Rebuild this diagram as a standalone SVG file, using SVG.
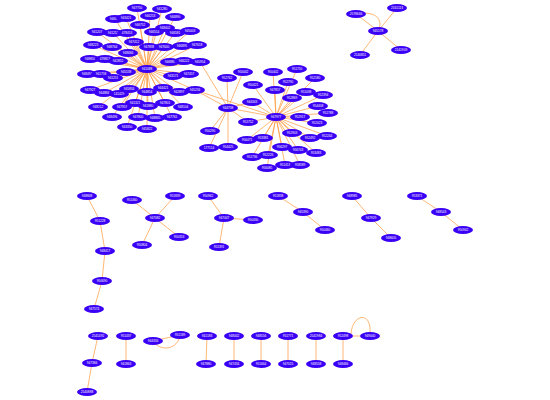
<svg xmlns="http://www.w3.org/2000/svg" width="550" height="400" viewBox="0 0 550 400">
<style>
.n{fill:#3a00f5}
.t{fill:#ffffff;font-family:"Liberation Sans",Arial,sans-serif;font-size:3.2px;text-anchor:middle;dominant-baseline:central}
#edges line,#edges path{stroke:#ff9a40;stroke-width:0.8;fill:none;stroke-opacity:0.9}
</style>
<rect width="550" height="400" fill="#ffffff"/>
<g id="edges">
<!-- cluster 1 hub 147,69 -->
<line x1="147" y1="69" x2="137" y2="8"/><line x1="147" y1="69" x2="162" y2="9"/><line x1="147" y1="69" x2="115" y2="19"/><line x1="147" y1="69" x2="126" y2="18"/><line x1="147" y1="69" x2="150" y2="16"/><line x1="147" y1="69" x2="175" y2="17"/><line x1="147" y1="69" x2="97" y2="32"/><line x1="147" y1="69" x2="113" y2="33"/><line x1="147" y1="69" x2="127" y2="33"/><line x1="147" y1="69" x2="140" y2="25"/><line x1="147" y1="69" x2="165" y2="28"/><line x1="147" y1="69" x2="154" y2="32"/><line x1="147" y1="69" x2="175" y2="33"/><line x1="147" y1="69" x2="190" y2="31"/><line x1="147" y1="69" x2="93" y2="45"/><line x1="147" y1="69" x2="112" y2="47"/><line x1="147" y1="69" x2="134" y2="42"/><line x1="147" y1="69" x2="149" y2="47"/><line x1="147" y1="69" x2="164" y2="47"/><line x1="147" y1="69" x2="182" y2="46"/><line x1="147" y1="69" x2="197" y2="45"/><line x1="147" y1="69" x2="128" y2="53"/><line x1="147" y1="69" x2="90" y2="59"/><line x1="147" y1="69" x2="105" y2="59"/><line x1="147" y1="69" x2="118" y2="61"/><line x1="147" y1="69" x2="170" y2="62"/><line x1="147" y1="69" x2="184" y2="61"/><line x1="147" y1="69" x2="200" y2="62"/><line x1="147" y1="69" x2="87" y2="74"/><line x1="147" y1="69" x2="101" y2="74"/><line x1="147" y1="69" x2="113" y2="78"/><line x1="147" y1="69" x2="126" y2="72"/><line x1="147" y1="69" x2="173" y2="76"/><line x1="147" y1="69" x2="189" y2="74"/><line x1="147" y1="69" x2="90" y2="90"/><line x1="147" y1="69" x2="104" y2="93"/><line x1="147" y1="69" x2="119" y2="94"/><line x1="147" y1="69" x2="129" y2="89"/><line x1="147" y1="69" x2="147" y2="92"/><line x1="147" y1="69" x2="163" y2="88"/><line x1="147" y1="69" x2="179" y2="92"/><line x1="147" y1="69" x2="195" y2="90"/><line x1="147" y1="69" x2="98" y2="107"/><line x1="147" y1="69" x2="122" y2="107"/><line x1="147" y1="69" x2="135" y2="103"/><line x1="147" y1="69" x2="148" y2="106"/><line x1="147" y1="69" x2="165" y2="103"/><line x1="147" y1="69" x2="183" y2="107"/><line x1="147" y1="69" x2="112" y2="117"/><line x1="147" y1="69" x2="138" y2="117"/><line x1="147" y1="69" x2="155" y2="118"/><line x1="147" y1="69" x2="172" y2="117"/><line x1="147" y1="69" x2="127" y2="127"/><line x1="147" y1="69" x2="147" y2="129"/>
<!-- cluster A hub 228,108 -->
<line x1="228" y1="108" x2="243" y2="72"/><line x1="228" y1="108" x2="227" y2="78"/><line x1="228" y1="108" x2="252" y2="102"/><line x1="228" y1="108" x2="248" y2="122"/><line x1="228" y1="108" x2="210" y2="131"/><line x1="228" y1="108" x2="228" y2="147"/><line x1="228" y1="108" x2="209" y2="148"/><line x1="228" y1="108" x2="195" y2="90"/><line x1="228" y1="108" x2="200" y2="62"/><line x1="228" y1="108" x2="276" y2="117"/>
<!-- cluster B hub 276,117 -->
<line x1="276" y1="117" x2="253" y2="85"/><line x1="276" y1="117" x2="273" y2="72"/><line x1="276" y1="117" x2="297" y2="69"/><line x1="276" y1="117" x2="288" y2="82"/><line x1="276" y1="117" x2="275" y2="90"/><line x1="276" y1="117" x2="315" y2="78"/><line x1="276" y1="117" x2="306" y2="92"/><line x1="276" y1="117" x2="323" y2="95"/><line x1="276" y1="117" x2="292" y2="98"/><line x1="276" y1="117" x2="318" y2="106"/><line x1="276" y1="117" x2="300" y2="117"/><line x1="276" y1="117" x2="328" y2="113"/><line x1="276" y1="117" x2="317" y2="123"/><line x1="276" y1="117" x2="292" y2="133"/><line x1="276" y1="117" x2="310" y2="138"/><line x1="276" y1="117" x2="327" y2="136"/><line x1="276" y1="117" x2="282" y2="147"/><line x1="276" y1="117" x2="298" y2="150"/><line x1="276" y1="117" x2="316" y2="153"/><line x1="276" y1="117" x2="247" y2="140"/><line x1="276" y1="117" x2="263" y2="138"/><line x1="276" y1="117" x2="252" y2="157"/><line x1="276" y1="117" x2="268" y2="155"/><line x1="276" y1="117" x2="267" y2="168"/><line x1="276" y1="117" x2="285" y2="165"/><line x1="276" y1="117" x2="300" y2="165"/><line x1="276" y1="117" x2="248" y2="122"/><line x1="276" y1="117" x2="252" y2="102"/><line x1="276" y1="117" x2="195" y2="90"/>
<!-- top right -->
<line x1="378" y1="31" x2="356" y2="14"/><path d="M356,14 C376,10 384,20 378,31"/><line x1="378" y1="31" x2="397" y2="8"/><line x1="378" y1="31" x2="360" y2="55"/><line x1="378" y1="31" x2="401" y2="50"/>
<!-- chain -->
<line x1="87" y1="196" x2="100" y2="221"/><line x1="100" y1="221" x2="105" y2="251"/><line x1="105" y1="251" x2="102" y2="281"/><line x1="102" y1="281" x2="94" y2="309"/>
<!-- star 947082 -->
<line x1="155" y1="218" x2="132" y2="200"/><line x1="155" y1="218" x2="175" y2="196"/><line x1="155" y1="218" x2="179" y2="237"/><line x1="155" y1="218" x2="142" y2="245"/>
<!-- star 947447 -->
<line x1="224" y1="218" x2="208" y2="196"/><line x1="224" y1="218" x2="253" y2="220"/><line x1="224" y1="218" x2="219" y2="247"/>
<!-- chains -->
<line x1="278" y1="196" x2="303" y2="212"/><line x1="303" y1="212" x2="325" y2="230"/>
<line x1="352" y1="196" x2="371" y2="218"/><line x1="371" y1="218" x2="391" y2="238"/>
<line x1="417" y1="196" x2="441" y2="212"/><line x1="441" y1="212" x2="463" y2="230"/>
<!-- bottom row -->
<line x1="98" y1="336" x2="92" y2="363"/><line x1="92" y1="363" x2="87" y2="392"/>
<line x1="126" y1="336" x2="126" y2="364"/>
<line x1="153" y1="341" x2="180" y2="335"/><path d="M153,341 C160,352 178,350 180,335"/>
<line x1="207" y1="336" x2="206" y2="364"/><line x1="234" y1="336" x2="234" y2="364"/><line x1="261" y1="336" x2="261" y2="364"/><line x1="288" y1="336" x2="288" y2="364"/><line x1="316" y1="336" x2="316" y2="364"/><line x1="343" y1="336" x2="343" y2="364"/>
<line x1="343" y1="336" x2="370" y2="336"/><path d="M351,334 C352,314 372,310 370,334"/>
</g>
<g id="nodes">
<g id="n941088"><ellipse class="n" cx="147" cy="69" rx="10" ry="4"/><text class="t" x="147" y="69">941088</text></g>
<g id="n947750"><ellipse class="n" cx="137" cy="8" rx="10" ry="4"/><text class="t" x="137" y="8">947750</text></g>
<g id="n941280"><ellipse class="n" cx="162" cy="9" rx="10" ry="4"/><text class="t" x="162" y="9">941280</text></g>
<g id="n946009"><ellipse class="n" cx="115" cy="19" rx="10" ry="4"/><text class="t" x="115" y="19">946009</text></g>
<g id="n943421"><ellipse class="n" cx="126" cy="18" rx="10" ry="4"/><text class="t" x="126" y="18">943421</text></g>
<g id="n946253"><ellipse class="n" cx="150" cy="16" rx="10" ry="4"/><text class="t" x="150" y="16">946253</text></g>
<g id="n946890"><ellipse class="n" cx="175" cy="17" rx="10" ry="4"/><text class="t" x="175" y="17">946890</text></g>
<g id="n941207"><ellipse class="n" cx="97" cy="32" rx="10" ry="4"/><text class="t" x="97" y="32">941207</text></g>
<g id="n941252"><ellipse class="n" cx="113" cy="33" rx="10" ry="4"/><text class="t" x="113" y="33">941252</text></g>
<g id="n478453"><ellipse class="n" cx="127" cy="33" rx="10" ry="4"/><text class="t" x="127" y="33">478453</text></g>
<g id="n946752"><ellipse class="n" cx="140" cy="25" rx="10" ry="4"/><text class="t" x="140" y="25">946752</text></g>
<g id="n948402"><ellipse class="n" cx="165" cy="28" rx="10" ry="4"/><text class="t" x="165" y="28">948402</text></g>
<g id="n946554"><ellipse class="n" cx="154" cy="32" rx="10" ry="4"/><text class="t" x="154" y="32">946554</text></g>
<g id="n946581"><ellipse class="n" cx="175" cy="33" rx="10" ry="4"/><text class="t" x="175" y="33">946581</text></g>
<g id="n945003"><ellipse class="n" cx="190" cy="31" rx="10" ry="4"/><text class="t" x="190" y="31">945003</text></g>
<g id="n948223"><ellipse class="n" cx="93" cy="45" rx="10" ry="4"/><text class="t" x="93" y="45">948223</text></g>
<g id="n948764"><ellipse class="n" cx="112" cy="47" rx="10" ry="4"/><text class="t" x="112" y="47">948764</text></g>
<g id="n947412"><ellipse class="n" cx="134" cy="42" rx="10" ry="4"/><text class="t" x="134" y="42">947412</text></g>
<g id="n947838"><ellipse class="n" cx="149" cy="47" rx="10" ry="4"/><text class="t" x="149" y="47">947838</text></g>
<g id="n947600"><ellipse class="n" cx="164" cy="47" rx="10" ry="4"/><text class="t" x="164" y="47">947600</text></g>
<g id="n946895"><ellipse class="n" cx="182" cy="46" rx="10" ry="4"/><text class="t" x="182" y="46">946895</text></g>
<g id="n947618"><ellipse class="n" cx="197" cy="45" rx="10" ry="4"/><text class="t" x="197" y="45">947618</text></g>
<g id="n948684"><ellipse class="n" cx="128" cy="53" rx="10" ry="4"/><text class="t" x="128" y="53">948684</text></g>
<g id="n948850"><ellipse class="n" cx="90" cy="59" rx="10" ry="4"/><text class="t" x="90" y="59">948850</text></g>
<g id="n478813"><ellipse class="n" cx="105" cy="59" rx="10" ry="4"/><text class="t" x="105" y="59">478813</text></g>
<g id="n942852"><ellipse class="n" cx="118" cy="61" rx="10" ry="4"/><text class="t" x="118" y="61">942852</text></g>
<g id="n946888"><ellipse class="n" cx="170" cy="62" rx="10" ry="4"/><text class="t" x="170" y="62">946888</text></g>
<g id="n946222"><ellipse class="n" cx="184" cy="61" rx="10" ry="4"/><text class="t" x="184" y="61">946222</text></g>
<g id="n945954"><ellipse class="n" cx="200" cy="62" rx="10" ry="4"/><text class="t" x="200" y="62">945954</text></g>
<g id="n948497"><ellipse class="n" cx="87" cy="74" rx="10" ry="4"/><text class="t" x="87" y="74">948497</text></g>
<g id="n941758"><ellipse class="n" cx="101" cy="74" rx="10" ry="4"/><text class="t" x="101" y="74">941758</text></g>
<g id="n941251"><ellipse class="n" cx="113" cy="78" rx="10" ry="4"/><text class="t" x="113" y="78">941251</text></g>
<g id="n945538"><ellipse class="n" cx="126" cy="72" rx="10" ry="4"/><text class="t" x="126" y="72">945538</text></g>
<g id="n943171"><ellipse class="n" cx="173" cy="76" rx="10" ry="4"/><text class="t" x="173" y="76">943171</text></g>
<g id="n947457"><ellipse class="n" cx="189" cy="74" rx="10" ry="4"/><text class="t" x="189" y="74">947457</text></g>
<g id="n947927"><ellipse class="n" cx="90" cy="90" rx="10" ry="4"/><text class="t" x="90" y="90">947927</text></g>
<g id="n944884"><ellipse class="n" cx="104" cy="93" rx="10" ry="4"/><text class="t" x="104" y="93">944884</text></g>
<g id="n141429"><ellipse class="n" cx="119" cy="94" rx="10" ry="4"/><text class="t" x="119" y="94">141429</text></g>
<g id="n945834"><ellipse class="n" cx="129" cy="89" rx="10" ry="4"/><text class="t" x="129" y="89">945834</text></g>
<g id="n944854"><ellipse class="n" cx="147" cy="92" rx="10" ry="4"/><text class="t" x="147" y="92">944854</text></g>
<g id="n944421"><ellipse class="n" cx="163" cy="88" rx="10" ry="4"/><text class="t" x="163" y="88">944421</text></g>
<g id="n942897"><ellipse class="n" cx="179" cy="92" rx="10" ry="4"/><text class="t" x="179" y="92">942897</text></g>
<g id="n945234"><ellipse class="n" cx="195" cy="90" rx="10" ry="4"/><text class="t" x="195" y="90">945234</text></g>
<g id="n948112"><ellipse class="n" cx="98" cy="107" rx="10" ry="4"/><text class="t" x="98" y="107">948112</text></g>
<g id="n947957"><ellipse class="n" cx="122" cy="107" rx="10" ry="4"/><text class="t" x="122" y="107">947957</text></g>
<g id="n941321"><ellipse class="n" cx="135" cy="103" rx="10" ry="4"/><text class="t" x="135" y="103">941321</text></g>
<g id="n941880"><ellipse class="n" cx="148" cy="106" rx="10" ry="4"/><text class="t" x="148" y="106">941880</text></g>
<g id="n947801"><ellipse class="n" cx="165" cy="103" rx="10" ry="4"/><text class="t" x="165" y="103">947801</text></g>
<g id="n948104"><ellipse class="n" cx="183" cy="107" rx="10" ry="4"/><text class="t" x="183" y="107">948104</text></g>
<g id="n948496"><ellipse class="n" cx="112" cy="117" rx="10" ry="4"/><text class="t" x="112" y="117">948496</text></g>
<g id="n947800"><ellipse class="n" cx="138" cy="117" rx="10" ry="4"/><text class="t" x="138" y="117">947800</text></g>
<g id="n948865"><ellipse class="n" cx="155" cy="118" rx="10" ry="4"/><text class="t" x="155" y="118">948865</text></g>
<g id="n947761"><ellipse class="n" cx="172" cy="117" rx="10" ry="4"/><text class="t" x="172" y="117">947761</text></g>
<g id="n943350"><ellipse class="n" cx="127" cy="127" rx="10" ry="4"/><text class="t" x="127" y="127">943350</text></g>
<g id="n945822"><ellipse class="n" cx="147" cy="129" rx="10" ry="4"/><text class="t" x="147" y="129">945822</text></g>

<g id="n944738"><ellipse class="n" cx="228" cy="108" rx="10" ry="4"/><text class="t" x="228" y="108">944738</text></g>
<g id="n950042"><ellipse class="n" cx="243" cy="72" rx="10" ry="4"/><text class="t" x="243" y="72">950042</text></g>
<g id="n952762"><ellipse class="n" cx="227" cy="78" rx="10" ry="4"/><text class="t" x="227" y="78">952762</text></g>
<g id="n944343"><ellipse class="n" cx="252" cy="102" rx="10" ry="4"/><text class="t" x="252" y="102">944343</text></g>
<g id="n951752"><ellipse class="n" cx="248" cy="122" rx="10" ry="4"/><text class="t" x="248" y="122">951752</text></g>
<g id="n950290"><ellipse class="n" cx="210" cy="131" rx="10" ry="4"/><text class="t" x="210" y="131">950290</text></g>
<g id="n954425"><ellipse class="n" cx="228" cy="147" rx="10" ry="4"/><text class="t" x="228" y="147">954425</text></g>
<g id="n177114"><ellipse class="n" cx="209" cy="148" rx="10" ry="4"/><text class="t" x="209" y="148">177114</text></g>

<g id="n947977"><ellipse class="n" cx="276" cy="117" rx="10" ry="4"/><text class="t" x="276" y="117">947977</text></g>
<g id="n950421"><ellipse class="n" cx="253" cy="85" rx="10" ry="4"/><text class="t" x="253" y="85">950421</text></g>
<g id="n950442"><ellipse class="n" cx="273" cy="72" rx="10" ry="4"/><text class="t" x="273" y="72">950442</text></g>
<g id="n951750"><ellipse class="n" cx="297" cy="69" rx="10" ry="4"/><text class="t" x="297" y="69">951750</text></g>
<g id="n952790"><ellipse class="n" cx="288" cy="82" rx="10" ry="4"/><text class="t" x="288" y="82">952790</text></g>
<g id="n947857"><ellipse class="n" cx="275" cy="90" rx="10" ry="4"/><text class="t" x="275" y="90">947857</text></g>
<g id="n952180"><ellipse class="n" cx="315" cy="78" rx="10" ry="4"/><text class="t" x="315" y="78">952180</text></g>
<g id="n951038"><ellipse class="n" cx="306" cy="92" rx="10" ry="4"/><text class="t" x="306" y="92">951038</text></g>
<g id="n952394"><ellipse class="n" cx="323" cy="95" rx="10" ry="4"/><text class="t" x="323" y="95">952394</text></g>
<g id="n952869"><ellipse class="n" cx="292" cy="98" rx="10" ry="4"/><text class="t" x="292" y="98">952869</text></g>
<g id="n954408"><ellipse class="n" cx="318" cy="106" rx="10" ry="4"/><text class="t" x="318" y="106">954408</text></g>
<g id="n952917"><ellipse class="n" cx="300" cy="117" rx="10" ry="4"/><text class="t" x="300" y="117">952917</text></g>
<g id="n951788"><ellipse class="n" cx="328" cy="113" rx="10" ry="4"/><text class="t" x="328" y="113">951788</text></g>
<g id="n952023"><ellipse class="n" cx="317" cy="123" rx="10" ry="4"/><text class="t" x="317" y="123">952023</text></g>
<g id="n952903"><ellipse class="n" cx="292" cy="133" rx="10" ry="4"/><text class="t" x="292" y="133">952903</text></g>
<g id="n952492"><ellipse class="n" cx="310" cy="138" rx="10" ry="4"/><text class="t" x="310" y="138">952492</text></g>
<g id="n952244"><ellipse class="n" cx="327" cy="136" rx="10" ry="4"/><text class="t" x="327" y="136">952244</text></g>
<g id="n956297"><ellipse class="n" cx="282" cy="147" rx="10" ry="4"/><text class="t" x="282" y="147">956297</text></g>
<g id="n956743"><ellipse class="n" cx="298" cy="150" rx="10" ry="4"/><text class="t" x="298" y="150">956743</text></g>
<g id="n953483"><ellipse class="n" cx="316" cy="153" rx="10" ry="4"/><text class="t" x="316" y="153">953483</text></g>
<g id="n956471"><ellipse class="n" cx="247" cy="140" rx="10" ry="4"/><text class="t" x="247" y="140">956471</text></g>
<g id="n953381"><ellipse class="n" cx="263" cy="138" rx="10" ry="4"/><text class="t" x="263" y="138">953381</text></g>
<g id="n951736"><ellipse class="n" cx="252" cy="157" rx="10" ry="4"/><text class="t" x="252" y="157">951736</text></g>
<g id="n952226"><ellipse class="n" cx="268" cy="155" rx="10" ry="4"/><text class="t" x="268" y="155">952226</text></g>
<g id="n956085"><ellipse class="n" cx="267" cy="168" rx="10" ry="4"/><text class="t" x="267" y="168">956085</text></g>
<g id="n951413"><ellipse class="n" cx="285" cy="165" rx="10" ry="4"/><text class="t" x="285" y="165">951413</text></g>
<g id="n958589"><ellipse class="n" cx="300" cy="165" rx="10" ry="4"/><text class="t" x="300" y="165">958589</text></g>

<g id="n945178"><ellipse class="n" cx="378" cy="31" rx="10" ry="4"/><text class="t" x="378" y="31">945178</text></g>
<g id="n2578666"><ellipse class="n" cx="356" cy="14" rx="10" ry="4"/><text class="t" x="356" y="14">2578666</text></g>
<g id="n2161113"><ellipse class="n" cx="397" cy="8" rx="10" ry="4"/><text class="t" x="397" y="8">2161113</text></g>
<g id="n2140811"><ellipse class="n" cx="360" cy="55" rx="10" ry="4"/><text class="t" x="360" y="55">2140811</text></g>
<g id="n2141909"><ellipse class="n" cx="401" cy="50" rx="10" ry="4"/><text class="t" x="401" y="50">2141909</text></g>

<g id="n948848"><ellipse class="n" cx="87" cy="196" rx="10" ry="4"/><text class="t" x="87" y="196">948848</text></g>
<g id="n951228"><ellipse class="n" cx="100" cy="221" rx="10" ry="4"/><text class="t" x="100" y="221">951228</text></g>
<g id="n948417"><ellipse class="n" cx="105" cy="251" rx="10" ry="4"/><text class="t" x="105" y="251">948417</text></g>
<g id="n950690"><ellipse class="n" cx="102" cy="281" rx="10" ry="4"/><text class="t" x="102" y="281">950690</text></g>
<g id="n947574"><ellipse class="n" cx="94" cy="309" rx="10" ry="4"/><text class="t" x="94" y="309">947574</text></g>

<g id="n947082"><ellipse class="n" cx="155" cy="218" rx="10" ry="4"/><text class="t" x="155" y="218">947082</text></g>
<g id="n951460"><ellipse class="n" cx="132" cy="200" rx="10" ry="4"/><text class="t" x="132" y="200">951460</text></g>
<g id="n951839"><ellipse class="n" cx="175" cy="196" rx="10" ry="4"/><text class="t" x="175" y="196">951839</text></g>
<g id="n950353"><ellipse class="n" cx="179" cy="237" rx="10" ry="4"/><text class="t" x="179" y="237">950353</text></g>
<g id="n950804"><ellipse class="n" cx="142" cy="245" rx="10" ry="4"/><text class="t" x="142" y="245">950804</text></g>

<g id="n947447"><ellipse class="n" cx="224" cy="218" rx="10" ry="4"/><text class="t" x="224" y="218">947447</text></g>
<g id="n950962"><ellipse class="n" cx="208" cy="196" rx="10" ry="4"/><text class="t" x="208" y="196">950962</text></g>
<g id="n950430"><ellipse class="n" cx="253" cy="220" rx="10" ry="4"/><text class="t" x="253" y="220">950430</text></g>
<g id="n951391"><ellipse class="n" cx="219" cy="247" rx="10" ry="4"/><text class="t" x="219" y="247">951391</text></g>

<g id="n951838"><ellipse class="n" cx="278" cy="196" rx="10" ry="4"/><text class="t" x="278" y="196">951838</text></g>
<g id="n945390"><ellipse class="n" cx="303" cy="212" rx="10" ry="4"/><text class="t" x="303" y="212">945390</text></g>
<g id="n950460"><ellipse class="n" cx="325" cy="230" rx="10" ry="4"/><text class="t" x="325" y="230">950460</text></g>

<g id="n948985"><ellipse class="n" cx="352" cy="196" rx="10" ry="4"/><text class="t" x="352" y="196">948985</text></g>
<g id="n947929"><ellipse class="n" cx="371" cy="218" rx="10" ry="4"/><text class="t" x="371" y="218">947929</text></g>
<g id="n948605"><ellipse class="n" cx="391" cy="238" rx="10" ry="4"/><text class="t" x="391" y="238">948605</text></g>

<g id="n953371"><ellipse class="n" cx="417" cy="196" rx="10" ry="4"/><text class="t" x="417" y="196">953371</text></g>
<g id="n948543"><ellipse class="n" cx="441" cy="212" rx="10" ry="4"/><text class="t" x="441" y="212">948543</text></g>
<g id="n950942"><ellipse class="n" cx="463" cy="230" rx="10" ry="4"/><text class="t" x="463" y="230">950942</text></g>

<g id="n2541492"><ellipse class="n" cx="98" cy="336" rx="10" ry="4"/><text class="t" x="98" y="336">2541492</text></g>
<g id="n947384"><ellipse class="n" cx="92" cy="363" rx="10" ry="4"/><text class="t" x="92" y="363">947384</text></g>
<g id="n2540888"><ellipse class="n" cx="87" cy="392" rx="10" ry="4"/><text class="t" x="87" y="392">2540888</text></g>
<g id="n951437"><ellipse class="n" cx="126" cy="336" rx="10" ry="4"/><text class="t" x="126" y="336">951437</text></g>
<g id="n941863"><ellipse class="n" cx="126" cy="364" rx="10" ry="4"/><text class="t" x="126" y="364">941863</text></g>
<g id="n944334"><ellipse class="n" cx="153" cy="341" rx="10" ry="4"/><text class="t" x="153" y="341">944334</text></g>
<g id="n951189"><ellipse class="n" cx="180" cy="335" rx="10" ry="4"/><text class="t" x="180" y="335">951189</text></g>
<g id="n941183"><ellipse class="n" cx="207" cy="336" rx="10" ry="4"/><text class="t" x="207" y="336">941183</text></g>
<g id="n947880"><ellipse class="n" cx="206" cy="364" rx="10" ry="4"/><text class="t" x="206" y="364">947880</text></g>
<g id="n948442"><ellipse class="n" cx="234" cy="336" rx="10" ry="4"/><text class="t" x="234" y="336">948442</text></g>
<g id="n947434"><ellipse class="n" cx="234" cy="364" rx="10" ry="4"/><text class="t" x="234" y="364">947434</text></g>
<g id="n948556"><ellipse class="n" cx="261" cy="336" rx="10" ry="4"/><text class="t" x="261" y="336">948556</text></g>
<g id="n951664"><ellipse class="n" cx="261" cy="364" rx="10" ry="4"/><text class="t" x="261" y="364">951664</text></g>
<g id="n951771"><ellipse class="n" cx="288" cy="336" rx="10" ry="4"/><text class="t" x="288" y="336">951771</text></g>
<g id="n947015"><ellipse class="n" cx="288" cy="364" rx="10" ry="4"/><text class="t" x="288" y="364">947015</text></g>
<g id="n2541984"><ellipse class="n" cx="316" cy="336" rx="10" ry="4"/><text class="t" x="316" y="336">2541984</text></g>
<g id="n948558"><ellipse class="n" cx="316" cy="364" rx="10" ry="4"/><text class="t" x="316" y="364">948558</text></g>
<g id="n952498"><ellipse class="n" cx="343" cy="336" rx="10" ry="4"/><text class="t" x="343" y="336">952498</text></g>
<g id="n948466"><ellipse class="n" cx="343" cy="364" rx="10" ry="4"/><text class="t" x="343" y="364">948466</text></g>
<g id="n949040"><ellipse class="n" cx="370" cy="336" rx="10" ry="4"/><text class="t" x="370" y="336">949040</text></g>
</g>
</svg>
